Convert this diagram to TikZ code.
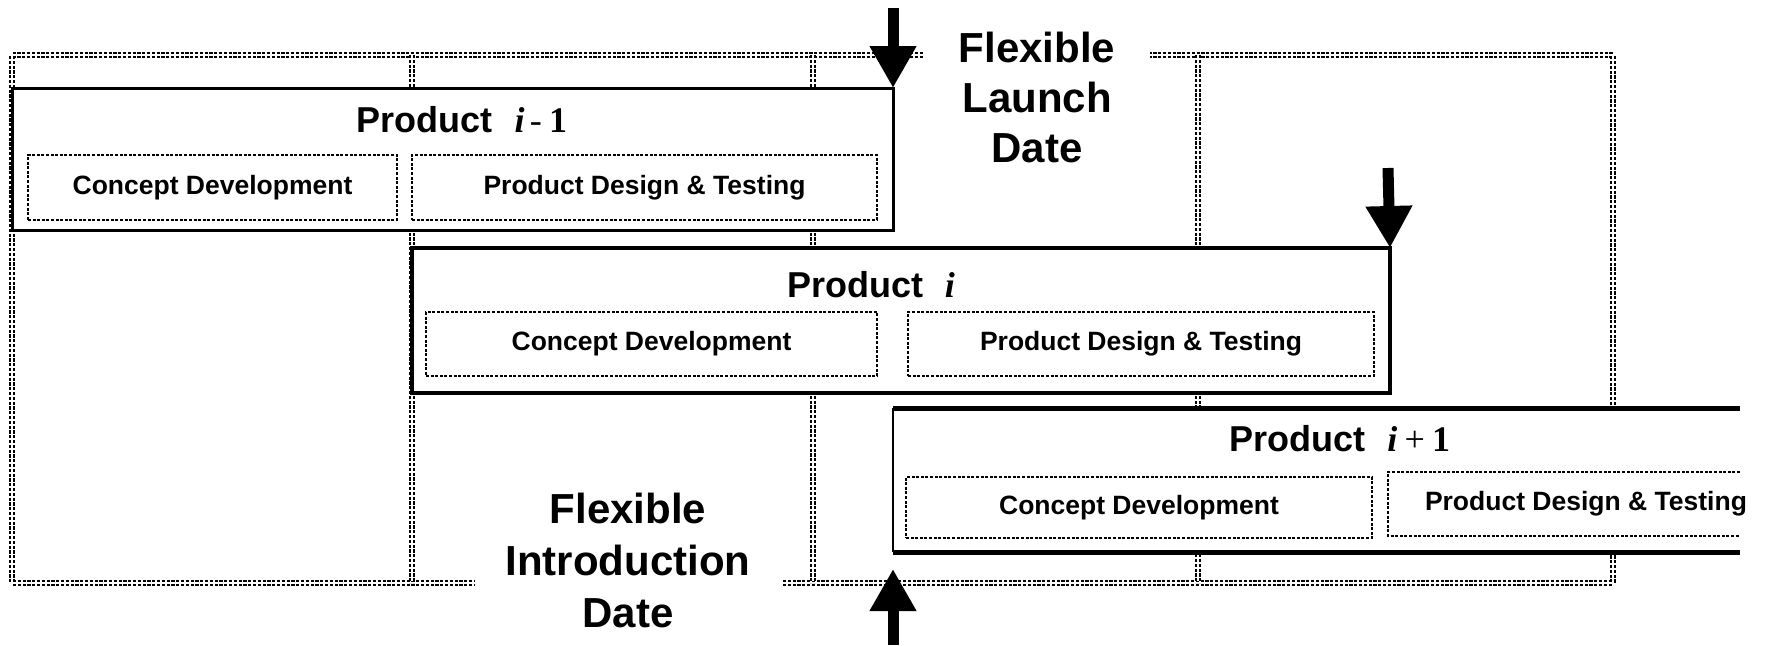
\documentclass[tikz,border=0pt]{standalone}
\usepackage{fontspec}
\setmainfont{Liberation Sans}
\newfontfamily\timesfont{Liberation Serif}
\usetikzlibrary{arrows.meta}

\begin{document}
\begin{tikzpicture}[x=0.5pt, y=-0.5pt, font=\bfseries]
		\tikzstyle{gridline}
		=[line width=1.3pt, double, double distance=0.8pt, dash pattern=on 1.6pt off 0.8pt]
		\tikzstyle{dotline}
		=[line width=1.4pt, dash pattern=on 1.5pt off 0.8pt]
		\tikzstyle{prodbox}
		=[draw, fill=white, inner sep=0pt, outer sep=0pt]
		\tikzstyle{phasebox}
		=[dotline, draw, fill=white, inner sep=0pt, outer sep=0pt, font=\fontsize{13.25}{15}\selectfont\bfseries]
		\tikzstyle{prodtitle}
		=[anchor=base, inner sep=0pt, font=\fontsize{18}{21}\selectfont\bfseries]
		\tikzstyle{flexlabel}
		=[align=center, inner sep=0pt]
		\tikzstyle{bigarrow}
		=[line width=5.5pt, -{Triangle[width=22pt,length=21pt]}]

		\useasboundingbox (0,0) rectangle (1768,645);

		% Draw the dotted columns behind the products
		\draw[gridline] (923,55) -- (12,55) -- (12,583) -- (475,583);
		\draw[gridline] (783,583) -- (1613,583) -- (1613,55) -- (1150,55);
		\foreach \x in {412,813,1198}
		\draw[gridline] (\x,55) -- (\x,583);

		% Product i-1
		\node[prodbox, line width=1.5pt, minimum width=440.5pt, minimum height=71pt] (pA) at (452.5,159) {};
		\node[prodtitle] (tA) at (462,132) {Product\hspace{0.6em}{\timesfont\itshape i}\hspace{0.15em}{\timesfont\mdseries -}\hspace{0.2em}{\timesfont 1}};
		\node[phasebox, minimum width=184.5pt, minimum height=32.5pt] (cA) at (212.5,187.5) {Concept Development};
		\node[phasebox, minimum width=232.5pt, minimum height=32.5pt] (dA) at (644.5,187.5) {Product Design \& Testing};

		% Product i
		\node[prodbox, line width=2pt, minimum width=489pt, minimum height=72.5pt] (pB) at (901,320.5) {};
		\node[prodtitle] (tB) at (871,297) {Product\hspace{0.6em}{\timesfont\itshape i}};
		\node[phasebox, minimum width=225.5pt, minimum height=32pt] (cB) at (651.5,344) {Concept Development};
		\node[phasebox, minimum width=233pt, minimum height=32pt] (dB) at (1141,344) {Product Design \& Testing};

		% Product i+1, running off the right side
		\node[prodbox, draw=none, minimum width=423.5pt, minimum height=72pt] (pC) at (1316.5,480) {};
		\draw[line width=2.5pt] (pC.north west) -- (pC.north east) (pC.south west) -- (pC.south east);
		\draw[line width=1pt] (pC.north west) -- (pC.south west);
		\node[prodtitle] (tC) at (1340,451) {Product\hspace{0.6em}{\timesfont\itshape i}\hspace{0.2em}{\timesfont\mdseries +}\hspace{0.2em}{\timesfont 1}};
		\node[phasebox, minimum width=233pt, minimum height=30.5pt] (cC) at (1139,507.5) {Concept Development};
		\node[phasebox, draw=none, anchor=west, minimum height=32pt, inner xsep=18.5pt] (dC) at (1388,504) {Product Design \& Testing};
		\draw[dotline] (dC.north west -| pC.east) -- (dC.north west) -- (dC.south west) -- (dC.south west -| pC.east);

		% Flexible dates
		\node[flexlabel, font=\fontsize{21}{25}\selectfont\bfseries] (launch) at (1037,97.5) {Flexible\\Launch\\Date};
		\node[flexlabel, font=\fontsize{21}{26}\selectfont\bfseries] (intro) at (628,560) {Flexible\\Introduction\\Date};

		\coordinate (launchTop) at (893,8);
		\coordinate (dueTop) at (1388,168);
		\coordinate (introFoot) at (893,645);
		\draw[bigarrow] (launchTop) -- (pA.north east);
		\draw[bigarrow] (dueTop) -- (pB.north east);
		\draw[bigarrow] (introFoot) -- ([yshift=-8.5pt]pC.south west);
	\end{tikzpicture}
\end{document}
